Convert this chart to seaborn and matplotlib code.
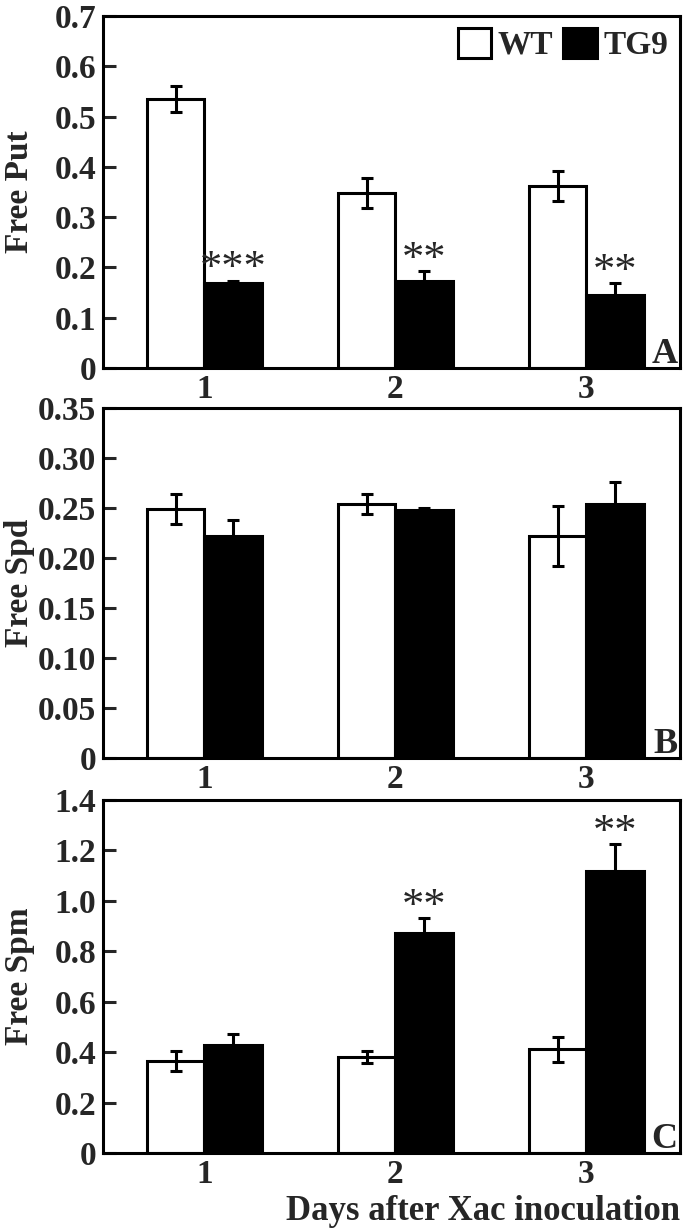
import matplotlib
matplotlib.use('Agg')
import matplotlib.pyplot as plt
from matplotlib.patches import Patch
import pandas as pd
import seaborn as sns

# data
days = ['1', '2', '3']
genotypes = ['WT', 'TG9']

put_wt = [0.535, 0.348, 0.362]
put_wt_err = [0.025, 0.030, 0.030]
put_tg = [0.169, 0.173, 0.145]
put_tg_err = [0.005, 0.020, 0.024]
put_stars = ['***', '**', '**']

spd_wt = [0.249, 0.254, 0.222]
spd_wt_err = [0.015, 0.010, 0.030]
spd_tg = [0.222, 0.248, 0.254]
spd_tg_err = [0.016, 0.002, 0.022]
spd_stars = ['', '', '']

spm_wt = [0.364, 0.381, 0.411]
spm_wt_err = [0.040, 0.025, 0.050]
spm_tg = [0.427, 0.873, 1.120]
spm_tg_err = [0.044, 0.060, 0.104]
spm_stars = ['', '**', '**']

put_ticks = [0, 0.1, 0.2, 0.3, 0.4, 0.5, 0.6, 0.7]
put_ticklabels = ['0', '0.1', '0.2', '0.3', '0.4', '0.5', '0.6', '0.7']
spd_ticks = [0, 0.05, 0.10, 0.15, 0.20, 0.25, 0.30, 0.35]
spd_ticklabels = ['0', '0.05', '0.10', '0.15', '0.20', '0.25', '0.30', '0.35']
spm_ticks = [0, 0.2, 0.4, 0.6, 0.8, 1.0, 1.2, 1.4]
spm_ticklabels = ['0', '0.2', '0.4', '0.6', '0.8', '1.0', '1.2', '1.4']

sns.set_theme(style='white')
plt.rcParams['font.family'] = ['Liberation Serif', 'DejaVu Serif']
plt.rcParams['font.weight'] = 'bold'

LW = 2.2
W, H = 685, 1229
fig = plt.figure(figsize=(W / 100, H / 100), dpi=100)


def panel(box, wt, wt_err, tg, tg_err, stars, ticks, ticklabels, ylabel, letter):
    left, top, right, bottom = box
    ax = fig.add_axes([left / W, 1 - bottom / H, (right - left) / W, (bottom - top) / H])
    df = pd.DataFrame({'day': days * 2,
                       'genotype': ['WT'] * 3 + ['TG9'] * 3,
                       'value': wt + tg})
    sns.barplot(data=df, x='day', y='value', hue='genotype', hue_order=genotypes,
                palette={'WT': 'white', 'TG9': 'black'}, saturation=1,
                edgecolor='black', linewidth=LW, width=0.6, errorbar=None,
                legend=False, ax=ax, zorder=2)

    errs = wt_err + tg_err
    xs = [p.get_x() + p.get_width() / 2 for p in ax.patches]
    ys = [p.get_height() for p in ax.patches]
    ax.errorbar(xs, ys, yerr=errs, fmt='none', ecolor='black', elinewidth=LW,
                capsize=4.3, capthick=LW, zorder=3)

    # significance marks above the TG9 bars
    for i, s in enumerate(stars):
        if s:
            ax.annotate(s, (xs[3 + i], tg[i] + tg_err[i]), xytext=(0, 8),
                        textcoords='offset points', ha='center', va='center',
                        fontsize=32, fontweight='normal')

    ax.set_xlim(-0.53, 2.49)
    ax.set_ylim(ticks[0], ticks[-1])
    ax.set_yticks(ticks)
    ax.set_yticklabels(ticklabels)
    ax.tick_params(axis='y', direction='in', length=9, width=LW, pad=5,
                   labelsize=24, left=True)
    ax.tick_params(axis='x', length=0, pad=4, labelsize=24)
    for sp in ax.spines.values():
        sp.set_linewidth(LW)
        sp.set_color('black')
    ax.set_xlabel('')
    ax.set_ylabel(ylabel, fontsize=24, fontweight='bold', va='center')
    ax.yaxis.set_label_coords(-0.144, 0.5)
    ax.text(0.996, 0.014, letter, transform=ax.transAxes, ha='right',
            va='baseline', fontsize=26, fontweight='bold')
    return ax


ax_a = panel((103, 16, 680, 368), put_wt, put_wt_err, put_tg, put_tg_err,
             put_stars, put_ticks, put_ticklabels, 'Free Put', 'A')
ax_b = panel((103, 408, 680, 758), spd_wt, spd_wt_err, spd_tg, spd_tg_err,
             spd_stars, spd_ticks, spd_ticklabels, 'Free Spd', 'B')
ax_c = panel((103, 800, 680, 1153), spm_wt, spm_wt_err, spm_tg, spm_tg_err,
             spm_stars, spm_ticks, spm_ticklabels, 'Free Spm', 'C')

handles = [Patch(facecolor='white', edgecolor='black', linewidth=LW, label='WT'),
           Patch(facecolor='black', edgecolor='black', linewidth=LW, label='TG9')]
ax_a.legend(handles=handles, ncol=2, loc='upper right', frameon=False,
            fontsize=24, handlelength=1.0, handleheight=1.0, handletextpad=0.2,
            columnspacing=0.3, borderaxespad=0.1, borderpad=0.25)

ax_c.set_xlabel('Days after Xac inoculation', fontsize=25, fontweight='bold',
                ha='right')
ax_c.xaxis.set_label_coords(1.0, -0.12)

fig.savefig('out.png', dpi=100)
